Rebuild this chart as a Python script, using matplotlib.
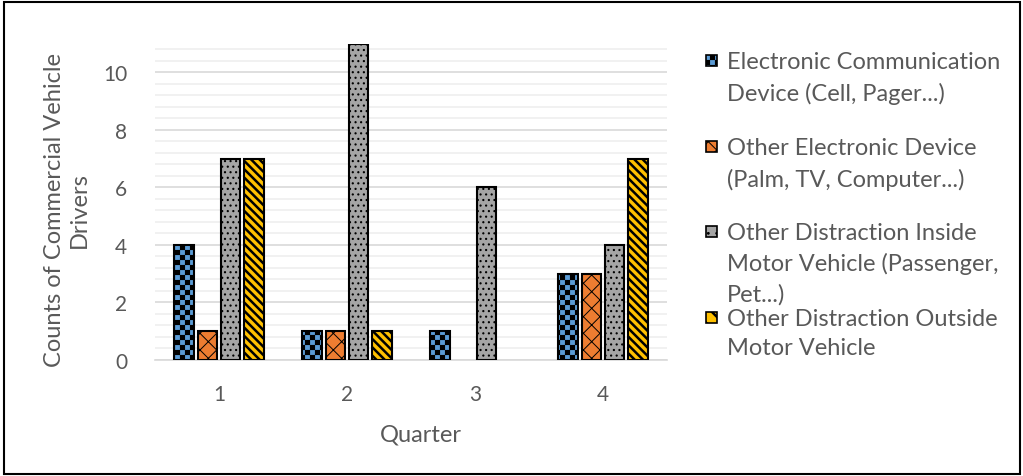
import matplotlib.pyplot as plt
from matplotlib import hatch as mhatch
from matplotlib.path import Path
from matplotlib.patches import Rectangle
from matplotlib.ticker import MultipleLocator
import numpy as np

quarters = ["1", "2", "3", "4"]
series = [
    "Electronic Communication\nDevice (Cell, Pager...)",
    "Other Electronic Device\n(Palm, TV, Computer...)",
    "Other Distraction Inside\nMotor Vehicle (Passenger,\nPet...)",
    "Other Distraction Outside\nMotor Vehicle",
]
elec_comm = [4, 1, 1, 3]
other_elec = [1, 1, 0, 3]
inside = [7, 11, 6, 4]
outside = [7, 1, 0, 7]


# checkerboard hatch, hooked on the 'o' character
class Checker(mhatch.HatchPatternBase):
    def __init__(self, hatch, density):
        self.n = 20 if 'o' in hatch else 0
        self.num_vertices = (self.n * self.n // 2) * 5

    def set_vertices_and_codes(self, vertices, codes):
        s = 1.0 / self.n
        k = 0
        for i in range(self.n):
            for j in range(self.n):
                if (i + j) % 2:
                    continue
                x0, y0 = i * s, j * s
                vertices[k:k + 5] = [(x0, y0), (x0 + s, y0), (x0 + s, y0 + s),
                                     (x0, y0 + s), (x0, y0)]
                codes[k:k + 5] = [Path.MOVETO, Path.LINETO, Path.LINETO,
                                  Path.LINETO, Path.CLOSEPOLY]
                k += 5


mhatch._hatch_types = [t for t in mhatch._hatch_types
                       if t is not mhatch.SmallCircles] + [Checker]

colors = ["#5B9BD5", "#ED7D31", "#A5A5A5", "#FFC000"]
hatches = ["o", "xx", "...", "\\\\\\\\"]
hatch_lw = [0.1, 0.7, 0.8, 1.8]

plt.rcParams['font.family'] = ['Lato', 'DejaVu Sans']
txt = "#595959"

fig = plt.figure(figsize=(10.23, 4.77), dpi=100)
ax = fig.add_axes([0.1515, 0.2432, 0.5005, 0.663])

x = np.arange(len(quarters))
slot = 0.182
w = 0.15
for i, vals in enumerate([elec_comm, other_elec, inside, outside]):
    pos = x + (i - 1.5) * slot
    with plt.rc_context({'hatch.linewidth': hatch_lw[i]}):
        for p, v in zip(pos, vals):
            if v == 0:
                continue
            ax.bar(p, v, w, color=colors[i], edgecolor="black", linewidth=1.5,
                   hatch=hatches[i], zorder=3)

ax.set_xlim(-0.5, 3.5)
ax.set_ylim(0, 11)
ax.yaxis.set_major_locator(MultipleLocator(2))
ax.yaxis.set_minor_locator(MultipleLocator(0.4))
ax.grid(which="major", axis="y", color="#D9D9D9", linewidth=1.2, zorder=0)
ax.grid(which="minor", axis="y", color="#EFEFEF", linewidth=1.2, zorder=0)
ax.set_xticks(x)
ax.set_xticklabels(quarters)
ax.tick_params(which="both", length=0, labelsize=15, colors=txt)
ax.tick_params(axis="x", pad=17)
ax.tick_params(axis="y", pad=20)
for s in ["top", "right", "left"]:
    ax.spines[s].set_visible(False)
ax.spines["bottom"].set_color("#D9D9D9")
ax.spines["bottom"].set_linewidth(1.2)

fig.text(421 / 1023, 1 - 435 / 477, "Quarter", ha="center", va="center",
         fontsize=17, color=txt)
fig.text(67 / 1023, 1 - 210 / 477, "Counts of Commercial Vehicle\nDrivers", rotation=90,
         ha="center", va="center", fontsize=17, color=txt, linespacing=1.2)

# legend drawn by hand to keep the overlapping layout
leg_y = [61, 147, 232, 318]
leg_ls = [1.55, 1.55, 1.5, 1.45]
for i, lab in enumerate(series):
    yy = 1 - leg_y[i] / 477
    with plt.rc_context({'hatch.linewidth': hatch_lw[i]}):
        fig.patches.append(Rectangle((706 / 1023, yy - 0.012), 11 / 1023, 11 / 477,
                                     transform=fig.transFigure, facecolor=colors[i],
                                     edgecolor="black", linewidth=1.2,
                                     hatch=hatches[i][:2]))
    fig.text(727 / 1023, yy + 9 / 477, lab, ha="left", va="top", fontsize=17,
             color=txt, linespacing=leg_ls[i], transform=fig.transFigure)

fig.patches.append(Rectangle((0.004, 0.004), 0.993, 0.99, transform=fig.transFigure,
                             fill=False, edgecolor="black", linewidth=1.5))

fig.savefig("out.png", dpi=100)
